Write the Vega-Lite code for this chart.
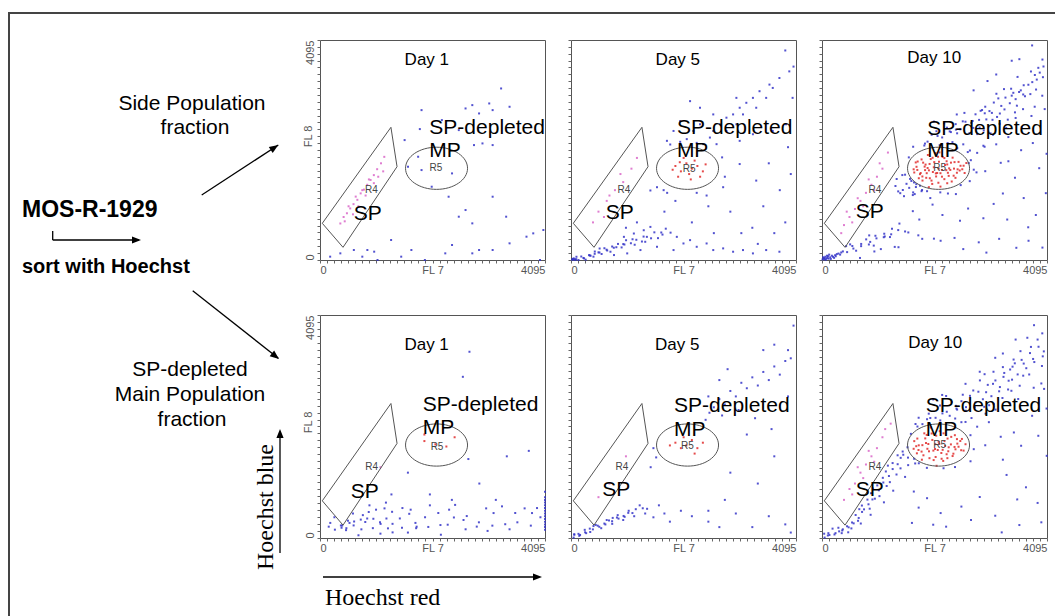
{
"$schema":"https://vega.github.io/schema/vega-lite/v6.json",
"autosize":{"type":"pad"},
"padding":0,
"background":"white",
"columns":4,
"spacing":{"row":55,"column":26},
"bounds":"flush",
"config":{
"view":{"stroke":"#555","strokeWidth":1},
"axis":{"domain":false,"grid":false,"ticks":true,"tickSize":3,"tickColor":"#666","tickWidth":1,"labelFont":"Liberation Sans Narrow, Arial Narrow, Liberation Sans","labelFontSize":11,"labelColor":"#555","titleFont":"Liberation Sans Narrow, Arial Narrow, Liberation Sans","titleFontSize":11,"titleFontWeight":"normal","titleColor":"#555"}
},
"datasets":{
"gate_r4":[{"vertex":1,"fl7":42,"fl8":683},{"vertex":2,"fl7":1291,"fl8":2470},{"vertex":3,"fl7":1402,"fl8":1737},{"vertex":4,"fl7":419,"fl8":236},{"vertex":5,"fl7":42,"fl8":683}],
"gate_r5":[{"fl7":2121,"fl8":1707}],
"cells_top_day1":[
{"fl7":370,"fl8":680,"gate":"R4"},{"fl7":430,"fl8":800,"gate":"R4"},{"fl7":490,"fl8":870,"gate":"R4"},{"fl7":550,"fl8":960,"gate":"R4"},{"fl7":610,"fl8":1040,"gate":"R4"},{"fl7":680,"fl8":1120,"gate":"R4"},{"fl7":740,"fl8":1240,"gate":"R4"},{"fl7":800,"fl8":1310,"gate":"R4"},{"fl7":860,"fl8":1400,"gate":"R4"},{"fl7":920,"fl8":1490,"gate":"R4"},{"fl7":980,"fl8":1580,"gate":"R4"},{"fl7":1040,"fl8":1690,"gate":"R4"},{"fl7":1110,"fl8":1800,"gate":"R4"},{"fl7":1170,"fl8":1920,"gate":"R4"},{"fl7":520,"fl8":1000,"gate":"R4"},{"fl7":650,"fl8":1180,"gate":"R4"},{"fl7":770,"fl8":1300,"gate":"R4"},{"fl7":890,"fl8":1500,"gate":"R4"},{"fl7":700,"fl8":1000,"gate":"R4"},{"fl7":980,"fl8":1430,"gate":"R4"},{"fl7":600,"fl8":850,"gate":"R4"},{"fl7":830,"fl8":1200,"gate":"R4"},{"fl7":1060,"fl8":1550,"gate":"R4"},{"fl7":450,"fl8":720,"gate":"R4"},{"fl7":1150,"fl8":1650,"gate":"R4"},
{"fl7":3296,"fl8":3193,"gate":"none"},{"fl7":2772,"fl8":2883,"gate":"none"},{"fl7":3080,"fl8":2914,"gate":"none"},{"fl7":2649,"fl8":2821,"gate":"none"},{"fl7":1848,"fl8":2790,"gate":"none"},{"fl7":2895,"fl8":2728,"gate":"none"},{"fl7":3142,"fl8":2790,"gate":"none"},{"fl7":3450,"fl8":2852,"gate":"none"},{"fl7":2218,"fl8":2604,"gate":"none"},{"fl7":2526,"fl8":2418,"gate":"none"},{"fl7":2803,"fl8":2139,"gate":"none"},{"fl7":2957,"fl8":2170,"gate":"none"},{"fl7":3142,"fl8":2139,"gate":"none"},{"fl7":1817,"fl8":2437,"gate":"none"},{"fl7":1540,"fl8":2232,"gate":"none"},{"fl7":1786,"fl8":1922,"gate":"none"},{"fl7":1848,"fl8":1674,"gate":"none"},{"fl7":2033,"fl8":1364,"gate":"none"},{"fl7":1602,"fl8":1736,"gate":"none"},{"fl7":2403,"fl8":1612,"gate":"none"},{"fl7":2772,"fl8":682,"gate":"none"},{"fl7":2341,"fl8":1178,"gate":"none"},{"fl7":2526,"fl8":806,"gate":"none"},{"fl7":2649,"fl8":930,"gate":"none"},{"fl7":3142,"fl8":1178,"gate":"none"},{"fl7":3388,"fl8":806,"gate":"none"},{"fl7":3758,"fl8":434,"gate":"none"},{"fl7":3881,"fl8":496,"gate":"none"},{"fl7":3450,"fl8":310,"gate":"none"},{"fl7":3142,"fl8":186,"gate":"none"},{"fl7":2772,"fl8":124,"gate":"none"},{"fl7":2403,"fl8":279,"gate":"none"},{"fl7":2280,"fl8":124,"gate":"none"},{"fl7":1663,"fl8":186,"gate":"none"},{"fl7":1294,"fl8":372,"gate":"none"},{"fl7":986,"fl8":155,"gate":"none"},{"fl7":770,"fl8":62,"gate":"none"},{"fl7":616,"fl8":186,"gate":"none"},{"fl7":370,"fl8":124,"gate":"none"},{"fl7":185,"fl8":62,"gate":"none"},{"fl7":862,"fl8":186,"gate":"none"},{"fl7":1047,"fl8":0,"gate":"none"},{"fl7":1478,"fl8":62,"gate":"none"},{"fl7":1909,"fl8":0,"gate":"none"},{"fl7":2895,"fl8":186,"gate":"none"},{"fl7":4004,"fl8":0,"gate":"none"},{"fl7":4065,"fl8":558,"gate":"none"}
],
"cells_top_day5":[
{"fl7":78,"fl8":0,"gate":"none"},{"fl7":99,"fl8":60,"gate":"none"},{"fl7":187,"fl8":65,"gate":"none"},{"fl7":226,"fl8":38,"gate":"none"},{"fl7":328,"fl8":91,"gate":"none"},{"fl7":357,"fl8":80,"gate":"none"},{"fl7":433,"fl8":158,"gate":"none"},{"fl7":500,"fl8":142,"gate":"none"},{"fl7":521,"fl8":214,"gate":"none"},{"fl7":608,"fl8":219,"gate":"none"},{"fl7":647,"fl8":192,"gate":"none"},{"fl7":749,"fl8":251,"gate":"none"},{"fl7":779,"fl8":228,"gate":"none"},{"fl7":855,"fl8":299,"gate":"none"},{"fl7":951,"fl8":296,"gate":"none"},{"fl7":1002,"fl8":368,"gate":"none"},{"fl7":1120,"fl8":386,"gate":"none"},{"fl7":1189,"fl8":376,"gate":"none"},{"fl7":1321,"fl8":436,"gate":"none"},{"fl7":1381,"fl8":431,"gate":"none"},{"fl7":1517,"fl8":515,"gate":"none"},{"fl7":1643,"fl8":512,"gate":"none"},{"fl7":1725,"fl8":583,"gate":"none"},{"fl7":96,"fl8":16,"gate":"none"},{"fl7":136,"fl8":0,"gate":"none"},{"fl7":238,"fl8":30,"gate":"none"},{"fl7":267,"fl8":6,"gate":"none"},{"fl7":343,"fl8":84,"gate":"none"},{"fl7":409,"fl8":62,"gate":"none"},{"fl7":431,"fl8":115,"gate":"none"},{"fl7":518,"fl8":139,"gate":"none"},{"fl7":557,"fl8":112,"gate":"none"},{"fl7":659,"fl8":177,"gate":"none"},{"fl7":718,"fl8":154,"gate":"none"},{"fl7":825,"fl8":238,"gate":"none"},{"fl7":921,"fl8":234,"gate":"none"},{"fl7":972,"fl8":288,"gate":"none"},{"fl7":1090,"fl8":312,"gate":"none"},{"fl7":1159,"fl8":284,"gate":"none"},{"fl7":1291,"fl8":344,"gate":"none"},{"fl7":1351,"fl8":339,"gate":"none"},{"fl7":1457,"fl8":404,"gate":"none"},{"fl7":1583,"fl8":407,"gate":"none"},{"fl7":1665,"fl8":473,"gate":"none"},{"fl7":1812,"fl8":509,"gate":"none"},{"fl7":1926,"fl8":431,"gate":"none"},{"fl7":2047,"fl8":308,"gate":"none"},{"fl7":2167,"fl8":370,"gate":"none"},{"fl7":2288,"fl8":246,"gate":"none"},{"fl7":2468,"fl8":308,"gate":"none"},{"fl7":2589,"fl8":185,"gate":"none"},{"fl7":2769,"fl8":216,"gate":"none"},{"fl7":2950,"fl8":154,"gate":"none"},{"fl7":3130,"fl8":185,"gate":"none"},{"fl7":3311,"fl8":123,"gate":"none"},{"fl7":3552,"fl8":185,"gate":"none"},{"fl7":3793,"fl8":154,"gate":"none"},{"fl7":963,"fl8":431,"gate":"none"},{"fl7":1144,"fl8":493,"gate":"none"},{"fl7":1324,"fl8":554,"gate":"none"},{"fl7":1445,"fl8":616,"gate":"none"},{"fl7":1264,"fl8":185,"gate":"none"},{"fl7":1023,"fl8":123,"gate":"none"},{"fl7":783,"fl8":92,"gate":"none"},{"fl7":1565,"fl8":246,"gate":"none"},{"fl7":1866,"fl8":185,"gate":"none"},{"fl7":20,"fl8":5,"gate":"none"},{"fl7":40,"fl8":10,"gate":"none"},{"fl7":30,"fl8":20,"gate":"none"},{"fl7":70,"fl8":15,"gate":"none"},{"fl7":50,"fl8":30,"gate":"none"},
{"fl7":1445,"fl8":1294,"gate":"none"},{"fl7":1565,"fl8":1355,"gate":"none"},{"fl7":1686,"fl8":1300,"gate":"none"},{"fl7":1806,"fl8":2150,"gate":"none"},{"fl7":1750,"fl8":1250,"gate":"none"},{"fl7":1987,"fl8":2200,"gate":"none"},{"fl7":2107,"fl8":2250,"gate":"none"},{"fl7":2288,"fl8":2180,"gate":"none"},{"fl7":2408,"fl8":2156,"gate":"none"},{"fl7":2528,"fl8":2279,"gate":"none"},{"fl7":2589,"fl8":2402,"gate":"none"},{"fl7":2709,"fl8":2526,"gate":"none"},{"fl7":2829,"fl8":2649,"gate":"none"},{"fl7":2950,"fl8":2710,"gate":"none"},{"fl7":3070,"fl8":2834,"gate":"none"},{"fl7":3191,"fl8":2926,"gate":"none"},{"fl7":3311,"fl8":3018,"gate":"none"},{"fl7":3431,"fl8":3142,"gate":"none"},{"fl7":3612,"fl8":3265,"gate":"none"},{"fl7":3793,"fl8":3388,"gate":"none"},{"fl7":3973,"fl8":3511,"gate":"none"},{"fl7":2750,"fl8":1910,"gate":"none"},{"fl7":2649,"fl8":2156,"gate":"none"},{"fl7":2829,"fl8":2402,"gate":"none"},{"fl7":3010,"fl8":2526,"gate":"none"},{"fl7":3130,"fl8":2710,"gate":"none"},{"fl7":3371,"fl8":2834,"gate":"none"},{"fl7":3552,"fl8":3018,"gate":"none"},{"fl7":3672,"fl8":3203,"gate":"none"},{"fl7":2227,"fl8":2402,"gate":"none"},{"fl7":2348,"fl8":2526,"gate":"none"},{"fl7":2589,"fl8":2710,"gate":"none"},{"fl7":2167,"fl8":2957,"gate":"none"},{"fl7":3070,"fl8":2218,"gate":"none"},{"fl7":3311,"fl8":2341,"gate":"none"},{"fl7":3672,"fl8":2402,"gate":"none"},{"fl7":3913,"fl8":2526,"gate":"none"},{"fl7":4033,"fl8":3018,"gate":"none"},{"fl7":1866,"fl8":2402,"gate":"none"},{"fl7":1746,"fl8":2218,"gate":"none"},{"fl7":1987,"fl8":2587,"gate":"none"},{"fl7":2348,"fl8":2834,"gate":"none"},{"fl7":3010,"fl8":3018,"gate":"none"},{"fl7":2288,"fl8":1250,"gate":"none"},{"fl7":2769,"fl8":1355,"gate":"none"},{"fl7":3070,"fl8":1786,"gate":"none"},{"fl7":3371,"fl8":1478,"gate":"none"},{"fl7":2800,"fl8":1550,"gate":"none"},{"fl7":2468,"fl8":1200,"gate":"none"},
{"fl7":3500,"fl8":1000,"gate":"none"},{"fl7":3800,"fl8":1300,"gate":"none"},{"fl7":3900,"fl8":700,"gate":"none"},{"fl7":3300,"fl8":600,"gate":"none"},{"fl7":2900,"fl8":900,"gate":"none"},{"fl7":2500,"fl8":1000,"gate":"none"},{"fl7":3100,"fl8":500,"gate":"none"},{"fl7":3700,"fl8":500,"gate":"none"},{"fl7":4000,"fl8":1600,"gate":"none"},{"fl7":3600,"fl8":1800,"gate":"none"},{"fl7":3950,"fl8":2100,"gate":"none"},{"fl7":4050,"fl8":3600,"gate":"none"},{"fl7":3900,"fl8":3900,"gate":"none"},{"fl7":1700,"fl8":900,"gate":"none"},{"fl7":1900,"fl8":1100,"gate":"none"},{"fl7":2200,"fl8":700,"gate":"none"},{"fl7":2600,"fl8":500,"gate":"none"},{"fl7":3400,"fl8":300,"gate":"none"},{"fl7":1200,"fl8":700,"gate":"none"},{"fl7":1000,"fl8":600,"gate":"none"},
{"fl7":1900,"fl8":1750,"gate":"R5"},{"fl7":2000,"fl8":1650,"gate":"R5"},{"fl7":2100,"fl8":1800,"gate":"R5"},{"fl7":2200,"fl8":1700,"gate":"R5"},{"fl7":2300,"fl8":1750,"gate":"R5"},{"fl7":1950,"fl8":1550,"gate":"R5"},{"fl7":2150,"fl8":1600,"gate":"R5"},{"fl7":2250,"fl8":1850,"gate":"R5"},{"fl7":2400,"fl8":1650,"gate":"R5"},{"fl7":1850,"fl8":1680,"gate":"R5"},{"fl7":2050,"fl8":1900,"gate":"R5"},{"fl7":2350,"fl8":1550,"gate":"R5"},{"fl7":2180,"fl8":1500,"gate":"R5"},{"fl7":1980,"fl8":1820,"gate":"R5"},{"fl7":2450,"fl8":1780,"gate":"R5"},
{"fl7":500,"fl8":900,"gate":"R4"},{"fl7":650,"fl8":1100,"gate":"R4"},{"fl7":800,"fl8":1300,"gate":"R4"},{"fl7":950,"fl8":1450,"gate":"R4"},{"fl7":700,"fl8":1200,"gate":"R4"},{"fl7":1100,"fl8":1700,"gate":"R4"},{"fl7":400,"fl8":700,"gate":"R4"},{"fl7":900,"fl8":1600,"gate":"R4"},{"fl7":1200,"fl8":1900,"gate":"R4"},{"fl7":600,"fl8":800,"gate":"R4"}
],
"cells_top_day10":[
{"fl7":10,"fl8":10,"gate":"none"},{"fl7":30,"fl8":20,"gate":"none"},{"fl7":50,"fl8":15,"gate":"none"},{"fl7":80,"fl8":30,"gate":"none"},{"fl7":100,"fl8":40,"gate":"none"},{"fl7":120,"fl8":25,"gate":"none"},{"fl7":150,"fl8":50,"gate":"none"},{"fl7":60,"fl8":60,"gate":"none"},{"fl7":200,"fl8":60,"gate":"none"},{"fl7":180,"fl8":80,"gate":"none"},{"fl7":240,"fl8":90,"gate":"none"},{"fl7":90,"fl8":80,"gate":"none"},{"fl7":130,"fl8":100,"gate":"none"},{"fl7":270,"fl8":110,"gate":"none"},{"fl7":300,"fl8":120,"gate":"none"},{"fl7":40,"fl8":40,"gate":"none"},{"fl7":220,"fl8":40,"gate":"none"},{"fl7":160,"fl8":20,"gate":"none"},{"fl7":20,"fl8":50,"gate":"none"},{"fl7":70,"fl8":5,"gate":"none"},{"fl7":110,"fl8":70,"gate":"none"},{"fl7":250,"fl8":70,"gate":"none"},{"fl7":330,"fl8":100,"gate":"none"},{"fl7":350,"fl8":140,"gate":"none"},{"fl7":380,"fl8":160,"gate":"none"},
{"fl7":457,"fl8":147,"gate":"none"},{"fl7":439,"fl8":258,"gate":"none"},{"fl7":552,"fl8":261,"gate":"none"},{"fl7":571,"fl8":213,"gate":"none"},{"fl7":713,"fl8":299,"gate":"none"},{"fl7":712,"fl8":258,"gate":"none"},{"fl7":804,"fl8":384,"gate":"none"},{"fl7":877,"fl8":337,"gate":"none"},{"fl7":859,"fl8":458,"gate":"none"},{"fl7":972,"fl8":451,"gate":"none"},{"fl7":991,"fl8":403,"gate":"none"},{"fl7":1133,"fl8":489,"gate":"none"},{"fl7":1142,"fl8":438,"gate":"none"},{"fl7":1274,"fl8":584,"gate":"none"},{"fl7":1387,"fl8":557,"gate":"none"},{"fl7":1409,"fl8":678,"gate":"none"},{"fl7":512,"fl8":291,"gate":"none"},{"fl7":621,"fl8":173,"gate":"none"},{"fl7":853,"fl8":289,"gate":"none"},{"fl7":942,"fl8":268,"gate":"none"},{"fl7":1124,"fl8":424,"gate":"none"},{"fl7":1237,"fl8":427,"gate":"none"},{"fl7":1259,"fl8":478,"gate":"none"},{"fl7":1512,"fl8":531,"gate":"none"},{"fl7":1571,"fl8":513,"gate":"none"},{"fl7":1753,"fl8":459,"gate":"none"},{"fl7":1392,"fl8":238,"gate":"none"},{"fl7":1824,"fl8":394,"gate":"none"},{"fl7":2037,"fl8":397,"gate":"none"},{"fl7":2159,"fl8":358,"gate":"none"},{"fl7":2412,"fl8":411,"gate":"none"},{"fl7":2571,"fl8":203,"gate":"none"},{"fl7":2853,"fl8":329,"gate":"none"},{"fl7":2992,"fl8":138,"gate":"none"},{"fl7":3224,"fl8":394,"gate":"none"},{"fl7":3537,"fl8":227,"gate":"none"},{"fl7":3759,"fl8":358,"gate":"none"},{"fl7":4012,"fl8":231,"gate":"none"},{"fl7":1071,"fl8":203,"gate":"none"},{"fl7":953,"fl8":159,"gate":"none"},{"fl7":692,"fl8":38,"gate":"none"},{"fl7":1324,"fl8":244,"gate":"none"},
{"fl7":1337,"fl8":1377,"gate":"none"},{"fl7":1359,"fl8":1508,"gate":"none"},{"fl7":1462,"fl8":1581,"gate":"none"},{"fl7":1471,"fl8":1303,"gate":"none"},{"fl7":1603,"fl8":1509,"gate":"none"},{"fl7":1512,"fl8":1588,"gate":"none"},{"fl7":1674,"fl8":1444,"gate":"none"},{"fl7":1687,"fl8":1227,"gate":"none"},{"fl7":1709,"fl8":1358,"gate":"none"},{"fl7":1812,"fl8":1281,"gate":"none"},{"fl7":1821,"fl8":1303,"gate":"none"},{"fl7":1653,"fl8":1209,"gate":"none"},{"fl7":1492,"fl8":1188,"gate":"none"},{"fl7":1424,"fl8":1244,"gate":"none"},{"fl7":1387,"fl8":1277,"gate":"none"},{"fl7":1659,"fl8":1258,"gate":"none"},{"fl7":1912,"fl8":1281,"gate":"none"},{"fl7":1971,"fl8":1153,"gate":"none"},{"fl7":2153,"fl8":1259,"gate":"none"},{"fl7":2292,"fl8":1238,"gate":"none"},{"fl7":2524,"fl8":1394,"gate":"none"},{"fl7":1580,"fl8":1910,"gate":"none"},{"fl7":1659,"fl8":2108,"gate":"none"},{"fl7":1862,"fl8":2131,"gate":"none"},{"fl7":1921,"fl8":2203,"gate":"none"},{"fl7":2103,"fl8":2309,"gate":"none"},{"fl7":2142,"fl8":2138,"gate":"none"},{"fl7":2324,"fl8":2394,"gate":"none"},{"fl7":2437,"fl8":2427,"gate":"none"},{"fl7":2459,"fl8":2358,"gate":"none"},{"fl7":2562,"fl8":2581,"gate":"none"},{"fl7":2571,"fl8":2153,"gate":"none"},{"fl7":2753,"fl8":2459,"gate":"none"},{"fl7":2742,"fl8":2588,"gate":"none"},{"fl7":2824,"fl8":2344,"gate":"none"},{"fl7":2887,"fl8":2777,"gate":"none"},{"fl7":2859,"fl8":2608,"gate":"none"},{"fl7":2962,"fl8":2731,"gate":"none"},{"fl7":2971,"fl8":2853,"gate":"none"},{"fl7":3103,"fl8":2609,"gate":"none"},{"fl7":3092,"fl8":2738,"gate":"none"},{"fl7":3174,"fl8":3094,"gate":"none"},{"fl7":3237,"fl8":2727,"gate":"none"},{"fl7":3209,"fl8":3008,"gate":"none"},{"fl7":3312,"fl8":3181,"gate":"none"},{"fl7":3321,"fl8":2803,"gate":"none"},{"fl7":3453,"fl8":3059,"gate":"none"},{"fl7":3442,"fl8":3188,"gate":"none"},{"fl7":3524,"fl8":2994,"gate":"none"},{"fl7":3587,"fl8":3127,"gate":"none"},{"fl7":3559,"fl8":3408,"gate":"none"},{"fl7":3662,"fl8":3081,"gate":"none"},{"fl7":3671,"fl8":3253,"gate":"none"},{"fl7":3803,"fl8":3509,"gate":"none"},{"fl7":3792,"fl8":3088,"gate":"none"},{"fl7":3874,"fl8":3444,"gate":"none"},{"fl7":3937,"fl8":3577,"gate":"none"},{"fl7":3909,"fl8":3358,"gate":"none"},{"fl7":4012,"fl8":3731,"gate":"none"},{"fl7":4021,"fl8":3403,"gate":"none"},{"fl7":2653,"fl8":2009,"gate":"none"},{"fl7":2692,"fl8":2038,"gate":"none"},{"fl7":2824,"fl8":1994,"gate":"none"},{"fl7":2937,"fl8":2127,"gate":"none"},{"fl7":2959,"fl8":2108,"gate":"none"},{"fl7":3112,"fl8":2331,"gate":"none"},{"fl7":3171,"fl8":2153,"gate":"none"},{"fl7":3353,"fl8":2459,"gate":"none"},{"fl7":3392,"fl8":2288,"gate":"none"},{"fl7":3524,"fl8":2644,"gate":"none"},{"fl7":3637,"fl8":2477,"gate":"none"},{"fl7":3659,"fl8":2808,"gate":"none"},{"fl7":3812,"fl8":2681,"gate":"none"},{"fl7":3871,"fl8":2853,"gate":"none"},{"fl7":4053,"fl8":2809,"gate":"none"},{"fl7":2462,"fl8":2081,"gate":"none"},{"fl7":2374,"fl8":2194,"gate":"none"},{"fl7":2287,"fl8":2177,"gate":"none"},{"fl7":2709,"fl8":1858,"gate":"none"},{"fl7":2762,"fl8":1681,"gate":"none"},{"fl7":2671,"fl8":1803,"gate":"none"},{"fl7":2453,"fl8":2709,"gate":"none"},{"fl7":2592,"fl8":2738,"gate":"none"},{"fl7":2224,"fl8":2544,"gate":"none"},{"fl7":2037,"fl8":2577,"gate":"none"},{"fl7":2759,"fl8":3158,"gate":"none"},{"fl7":3012,"fl8":3331,"gate":"none"},{"fl7":3171,"fl8":3453,"gate":"none"},{"fl7":3453,"fl8":3709,"gate":"none"},{"fl7":3592,"fl8":3738,"gate":"none"},{"fl7":3824,"fl8":3994,"gate":"none"},{"fl7":2437,"fl8":1227,"gate":"none"},{"fl7":2689,"fl8":1468,"gate":"none"},{"fl7":2812,"fl8":1631,"gate":"none"},{"fl7":2971,"fl8":1653,"gate":"none"},{"fl7":3253,"fl8":1809,"gate":"none"},{"fl7":3392,"fl8":1838,"gate":"none"},{"fl7":3624,"fl8":2044,"gate":"none"},{"fl7":3837,"fl8":2177,"gate":"none"},{"fl7":3959,"fl8":2358,"gate":"none"},{"fl7":3512,"fl8":1531,"gate":"none"},{"fl7":3671,"fl8":1153,"gate":"none"},{"fl7":3953,"fl8":1709,"gate":"none"},{"fl7":3292,"fl8":1238,"gate":"none"},{"fl7":3124,"fl8":1044,"gate":"none"},{"fl7":2937,"fl8":777,"gate":"none"},{"fl7":2659,"fl8":958,"gate":"none"},{"fl7":2512,"fl8":731,"gate":"none"},{"fl7":3371,"fl8":753,"gate":"none"},{"fl7":3753,"fl8":609,"gate":"none"},{"fl7":3892,"fl8":838,"gate":"none"},{"fl7":4074,"fl8":1244,"gate":"none"},{"fl7":4087,"fl8":1977,"gate":"none"},{"fl7":4009,"fl8":3058,"gate":"none"},{"fl7":2012,"fl8":1031,"gate":"none"},{"fl7":1771,"fl8":753,"gate":"none"},{"fl7":1653,"fl8":909,"gate":"none"},{"fl7":2192,"fl8":838,"gate":"none"},
{"fl7":1538,"fl8":1418,"gate":"none"},{"fl7":1587,"fl8":1343,"gate":"none"},{"fl7":1627,"fl8":1471,"gate":"none"},{"fl7":1716,"fl8":1412,"gate":"none"},{"fl7":1783,"fl8":1383,"gate":"none"},{"fl7":1874,"fl8":2167,"gate":"none"},{"fl7":1996,"fl8":2331,"gate":"none"},{"fl7":2083,"fl8":2397,"gate":"none"},{"fl7":2187,"fl8":2281,"gate":"none"},{"fl7":2274,"fl8":2463,"gate":"none"},{"fl7":2346,"fl8":2381,"gate":"none"},{"fl7":2433,"fl8":2529,"gate":"none"},{"fl7":2517,"fl8":2433,"gate":"none"},{"fl7":2611,"fl8":2574,"gate":"none"},{"fl7":2683,"fl8":2361,"gate":"none"},{"fl7":2718,"fl8":2553,"gate":"none"},{"fl7":2794,"fl8":2712,"gate":"none"},{"fl7":2868,"fl8":2466,"gate":"none"},{"fl7":2913,"fl8":2791,"gate":"none"},{"fl7":2991,"fl8":2617,"gate":"none"},{"fl7":3048,"fl8":2772,"gate":"none"},{"fl7":3127,"fl8":2931,"gate":"none"},{"fl7":3186,"fl8":2663,"gate":"none"},{"fl7":3263,"fl8":2868,"gate":"none"},{"fl7":3339,"fl8":3023,"gate":"none"},{"fl7":3418,"fl8":2918,"gate":"none"},{"fl7":3482,"fl8":3112,"gate":"none"},{"fl7":3547,"fl8":2873,"gate":"none"},{"fl7":3618,"fl8":3158,"gate":"none"},{"fl7":3694,"fl8":3048,"gate":"none"},{"fl7":3756,"fl8":3262,"gate":"none"},{"fl7":3827,"fl8":3311,"gate":"none"},{"fl7":3896,"fl8":3173,"gate":"none"},{"fl7":3963,"fl8":3488,"gate":"none"},{"fl7":4031,"fl8":3602,"gate":"none"},{"fl7":2944,"fl8":2411,"gate":"none"},{"fl7":3068,"fl8":2357,"gate":"none"},{"fl7":3233,"fl8":2536,"gate":"none"},{"fl7":3381,"fl8":2612,"gate":"none"},{"fl7":3512,"fl8":2748,"gate":"none"},
{"fl7":1668,"fl8":1688,"gate":"R5"},{"fl7":1679,"fl8":1629,"gate":"R5"},{"fl7":1706,"fl8":1816,"gate":"R5"},{"fl7":1735,"fl8":1676,"gate":"R5"},{"fl7":1827,"fl8":1555,"gate":"R5"},{"fl7":1796,"fl8":1619,"gate":"R5"},{"fl7":1812,"fl8":1872,"gate":"R5"},{"fl7":1868,"fl8":1738,"gate":"R5"},{"fl7":1829,"fl8":1479,"gate":"R5"},{"fl7":1906,"fl8":1616,"gate":"R5"},{"fl7":1885,"fl8":1776,"gate":"R5"},{"fl7":1927,"fl8":1955,"gate":"R5"},{"fl7":1946,"fl8":1669,"gate":"R5"},{"fl7":1962,"fl8":1522,"gate":"R5"},{"fl7":2018,"fl8":1638,"gate":"R5"},{"fl7":1979,"fl8":1879,"gate":"R5"},{"fl7":2006,"fl8":1416,"gate":"R5"},{"fl7":2035,"fl8":1726,"gate":"R5"},{"fl7":2077,"fl8":1555,"gate":"R5"},{"fl7":2096,"fl8":1619,"gate":"R5"},{"fl7":2112,"fl8":1922,"gate":"R5"},{"fl7":2118,"fl8":1438,"gate":"R5"},{"fl7":2129,"fl8":1829,"gate":"R5"},{"fl7":2156,"fl8":1616,"gate":"R5"},{"fl7":2185,"fl8":1676,"gate":"R5"},{"fl7":2227,"fl8":1505,"gate":"R5"},{"fl7":2196,"fl8":1919,"gate":"R5"},{"fl7":2262,"fl8":1672,"gate":"R5"},{"fl7":2268,"fl8":1838,"gate":"R5"},{"fl7":2279,"fl8":1779,"gate":"R5"},{"fl7":2306,"fl8":1566,"gate":"R5"},{"fl7":2335,"fl8":1676,"gate":"R5"},{"fl7":2377,"fl8":1905,"gate":"R5"},{"fl7":2396,"fl8":1569,"gate":"R5"},{"fl7":2412,"fl8":1822,"gate":"R5"},{"fl7":2468,"fl8":1688,"gate":"R5"},{"fl7":2429,"fl8":1529,"gate":"R5"},{"fl7":2506,"fl8":1666,"gate":"R5"},{"fl7":2485,"fl8":1826,"gate":"R5"},{"fl7":2577,"fl8":1755,"gate":"R5"},{"fl7":2596,"fl8":1619,"gate":"R5"},{"fl7":1762,"fl8":1522,"gate":"R5"},{"fl7":2068,"fl8":1988,"gate":"R5"},{"fl7":2279,"fl8":1429,"gate":"R5"},{"fl7":2156,"fl8":1366,"gate":"R5"},{"fl7":1945,"fl8":1356,"gate":"R5"},{"fl7":2627,"fl8":1805,"gate":"R5"},
{"fl7":1720,"fl8":1735,"gate":"R5"},{"fl7":1783,"fl8":1598,"gate":"R5"},{"fl7":1841,"fl8":1812,"gate":"R5"},{"fl7":1897,"fl8":1530,"gate":"R5"},{"fl7":1958,"fl8":1788,"gate":"R5"},{"fl7":2013,"fl8":1903,"gate":"R5"},{"fl7":2072,"fl8":1612,"gate":"R5"},{"fl7":2124,"fl8":1702,"gate":"R5"},{"fl7":2183,"fl8":1551,"gate":"R5"},{"fl7":2239,"fl8":1768,"gate":"R5"},{"fl7":2291,"fl8":1623,"gate":"R5"},{"fl7":2347,"fl8":1812,"gate":"R5"},{"fl7":2402,"fl8":1701,"gate":"R5"},{"fl7":2455,"fl8":1624,"gate":"R5"},{"fl7":2521,"fl8":1754,"gate":"R5"},{"fl7":1876,"fl8":1673,"gate":"R5"},{"fl7":1993,"fl8":1478,"gate":"R5"},{"fl7":2227,"fl8":1897,"gate":"R5"},{"fl7":2361,"fl8":1461,"gate":"R5"},{"fl7":2138,"fl8":2003,"gate":"R5"},{"fl7":1741,"fl8":1833,"gate":"R5"},{"fl7":2553,"fl8":1689,"gate":"R5"},{"fl7":2043,"fl8":1822,"gate":"R5"},{"fl7":2314,"fl8":1706,"gate":"R5"},{"fl7":1922,"fl8":1712,"gate":"R5"},
{"fl7":400,"fl8":650,"gate":"R4"},{"fl7":500,"fl8":800,"gate":"R4"},{"fl7":600,"fl8":950,"gate":"R4"},{"fl7":700,"fl8":1100,"gate":"R4"},{"fl7":800,"fl8":1250,"gate":"R4"},{"fl7":900,"fl8":1400,"gate":"R4"},{"fl7":1000,"fl8":1550,"gate":"R4"},{"fl7":1100,"fl8":1700,"gate":"R4"},{"fl7":550,"fl8":700,"gate":"R4"},{"fl7":750,"fl8":1000,"gate":"R4"},{"fl7":950,"fl8":1300,"gate":"R4"},{"fl7":650,"fl8":1150,"gate":"R4"},{"fl7":850,"fl8":1500,"gate":"R4"},{"fl7":450,"fl8":900,"gate":"R4"},{"fl7":1050,"fl8":1800,"gate":"R4"},{"fl7":1200,"fl8":2000,"gate":"R4"},{"fl7":350,"fl8":500,"gate":"R4"}
],
"cells_bottom_day1":[
{"fl7":187,"fl8":277,"gate":"none"},{"fl7":159,"fl8":208,"gate":"none"},{"fl7":262,"fl8":381,"gate":"none"},{"fl7":271,"fl8":153,"gate":"none"},{"fl7":403,"fl8":229,"gate":"none"},{"fl7":392,"fl8":188,"gate":"none"},{"fl7":474,"fl8":144,"gate":"none"},{"fl7":537,"fl8":277,"gate":"none"},{"fl7":509,"fl8":318,"gate":"none"},{"fl7":612,"fl8":231,"gate":"none"},{"fl7":621,"fl8":303,"gate":"none"},{"fl7":753,"fl8":159,"gate":"none"},{"fl7":742,"fl8":338,"gate":"none"},{"fl7":824,"fl8":294,"gate":"none"},{"fl7":887,"fl8":477,"gate":"none"},{"fl7":859,"fl8":358,"gate":"none"},{"fl7":962,"fl8":181,"gate":"none"},{"fl7":971,"fl8":353,"gate":"none"},{"fl7":1103,"fl8":259,"gate":"none"},{"fl7":1092,"fl8":288,"gate":"none"},{"fl7":1174,"fl8":544,"gate":"none"},{"fl7":1237,"fl8":177,"gate":"none"},{"fl7":1209,"fl8":358,"gate":"none"},{"fl7":1312,"fl8":481,"gate":"none"},{"fl7":1321,"fl8":103,"gate":"none"},{"fl7":1453,"fl8":359,"gate":"none"},{"fl7":1492,"fl8":188,"gate":"none"},{"fl7":1624,"fl8":444,"gate":"none"},{"fl7":1737,"fl8":277,"gate":"none"},{"fl7":1759,"fl8":208,"gate":"none"},{"fl7":1912,"fl8":381,"gate":"none"},{"fl7":1971,"fl8":203,"gate":"none"},{"fl7":2153,"fl8":459,"gate":"none"},{"fl7":2192,"fl8":238,"gate":"none"},{"fl7":2324,"fl8":244,"gate":"none"},{"fl7":2437,"fl8":377,"gate":"none"},{"fl7":2459,"fl8":608,"gate":"none"},{"fl7":2612,"fl8":331,"gate":"none"},{"fl7":2671,"fl8":403,"gate":"none"},{"fl7":2853,"fl8":209,"gate":"none"},{"fl7":2892,"fl8":288,"gate":"none"},{"fl7":3024,"fl8":544,"gate":"none"},{"fl7":3137,"fl8":227,"gate":"none"},{"fl7":3159,"fl8":458,"gate":"none"},{"fl7":3312,"fl8":581,"gate":"none"},{"fl7":3371,"fl8":253,"gate":"none"},{"fl7":3553,"fl8":459,"gate":"none"},{"fl7":3592,"fl8":288,"gate":"none"},{"fl7":3724,"fl8":544,"gate":"none"},{"fl7":3837,"fl8":227,"gate":"none"},{"fl7":3859,"fl8":458,"gate":"none"},{"fl7":4012,"fl8":381,"gate":"none"},{"fl7":600,"fl8":450,"gate":"none"},{"fl7":900,"fl8":600,"gate":"none"},{"fl7":1200,"fl8":650,"gate":"none"},{"fl7":1500,"fl8":550,"gate":"none"},{"fl7":2000,"fl8":600,"gate":"none"},{"fl7":2400,"fl8":700,"gate":"none"},{"fl7":700,"fl8":50,"gate":"none"},{"fl7":1100,"fl8":80,"gate":"none"},{"fl7":1600,"fl8":100,"gate":"none"},{"fl7":2200,"fl8":60,"gate":"none"},{"fl7":380,"fl8":230,"gate":"none"},{"fl7":480,"fl8":180,"gate":"none"},{"fl7":780,"fl8":420,"gate":"none"},{"fl7":1020,"fl8":520,"gate":"none"},{"fl7":1320,"fl8":260,"gate":"none"},{"fl7":1650,"fl8":520,"gate":"none"},{"fl7":1750,"fl8":180,"gate":"none"},{"fl7":2350,"fl8":520,"gate":"none"},{"fl7":2650,"fl8":160,"gate":"none"},{"fl7":3050,"fl8":130,"gate":"none"},{"fl7":3450,"fl8":160,"gate":"none"},{"fl7":3950,"fl8":550,"gate":"none"},
{"fl7":4095,"fl8":150,"gate":"none"},{"fl7":4095,"fl8":200,"gate":"none"},{"fl7":4095,"fl8":250,"gate":"none"},{"fl7":4095,"fl8":300,"gate":"none"},{"fl7":4095,"fl8":350,"gate":"none"},{"fl7":4095,"fl8":400,"gate":"none"},{"fl7":4095,"fl8":450,"gate":"none"},{"fl7":4095,"fl8":500,"gate":"none"},{"fl7":4095,"fl8":550,"gate":"none"},{"fl7":4095,"fl8":600,"gate":"none"},{"fl7":4095,"fl8":650,"gate":"none"},{"fl7":4095,"fl8":700,"gate":"none"},{"fl7":4095,"fl8":750,"gate":"none"},{"fl7":4095,"fl8":850,"gate":"none"},
{"fl7":2720,"fl8":3420,"gate":"none"},{"fl7":2600,"fl8":2960,"gate":"none"},{"fl7":1600,"fl8":1200,"gate":"none"},{"fl7":2700,"fl8":1450,"gate":"none"},{"fl7":3400,"fl8":1500,"gate":"none"},{"fl7":3800,"fl8":1600,"gate":"none"},{"fl7":1300,"fl8":800,"gate":"none"},{"fl7":2000,"fl8":800,"gate":"none"},{"fl7":2900,"fl8":1000,"gate":"none"},{"fl7":3200,"fl8":700,"gate":"none"},
{"fl7":1900,"fl8":1780,"gate":"R5"},{"fl7":2100,"fl8":1720,"gate":"R5"},{"fl7":2300,"fl8":1680,"gate":"R5"},{"fl7":1900,"fl8":1900,"gate":"R5"},{"fl7":2450,"fl8":1850,"gate":"R5"},
{"fl7":1100,"fl8":1300,"gate":"R4"}
],
"cells_bottom_day5":[
{"fl7":48,"fl8":8,"gate":"none"},{"fl7":59,"fl8":69,"gate":"none"},{"fl7":136,"fl8":76,"gate":"none"},{"fl7":165,"fl8":56,"gate":"none"},{"fl7":257,"fl8":105,"gate":"none"},{"fl7":276,"fl8":89,"gate":"none"},{"fl7":342,"fl8":172,"gate":"none"},{"fl7":398,"fl8":158,"gate":"none"},{"fl7":409,"fl8":219,"gate":"none"},{"fl7":486,"fl8":226,"gate":"none"},{"fl7":515,"fl8":206,"gate":"none"},{"fl7":607,"fl8":265,"gate":"none"},{"fl7":626,"fl8":249,"gate":"none"},{"fl7":692,"fl8":322,"gate":"none"},{"fl7":748,"fl8":308,"gate":"none"},{"fl7":759,"fl8":369,"gate":"none"},{"fl7":836,"fl8":376,"gate":"none"},{"fl7":865,"fl8":356,"gate":"none"},{"fl7":957,"fl8":405,"gate":"none"},{"fl7":976,"fl8":389,"gate":"none"},{"fl7":1042,"fl8":462,"gate":"none"},{"fl7":1118,"fl8":458,"gate":"none"},{"fl7":1179,"fl8":529,"gate":"none"},{"fl7":1306,"fl8":546,"gate":"none"},{"fl7":1385,"fl8":536,"gate":"none"},{"fl7":60,"fl8":60,"gate":"none"},{"fl7":150,"fl8":40,"gate":"none"},{"fl7":250,"fl8":150,"gate":"none"},{"fl7":350,"fl8":110,"gate":"none"},{"fl7":450,"fl8":240,"gate":"none"},{"fl7":550,"fl8":180,"gate":"none"},{"fl7":650,"fl8":330,"gate":"none"},{"fl7":750,"fl8":260,"gate":"none"},{"fl7":850,"fl8":420,"gate":"none"},{"fl7":950,"fl8":330,"gate":"none"},{"fl7":1050,"fl8":500,"gate":"none"},{"fl7":1150,"fl8":400,"gate":"none"},{"fl7":1250,"fl8":600,"gate":"none"},{"fl7":1350,"fl8":450,"gate":"none"},{"fl7":1500,"fl8":380,"gate":"none"},{"fl7":1600,"fl8":600,"gate":"none"},{"fl7":1700,"fl8":450,"gate":"none"},{"fl7":1800,"fl8":300,"gate":"none"},{"fl7":2000,"fl8":500,"gate":"none"},{"fl7":2200,"fl8":400,"gate":"none"},{"fl7":2500,"fl8":300,"gate":"none"},{"fl7":2800,"fl8":700,"gate":"none"},{"fl7":3000,"fl8":450,"gate":"none"},{"fl7":3300,"fl8":200,"gate":"none"},{"fl7":3600,"fl8":400,"gate":"none"},{"fl7":3900,"fl8":250,"gate":"none"},{"fl7":4000,"fl8":100,"gate":"none"},
{"fl7":1450,"fl8":1300,"gate":"none"},{"fl7":1550,"fl8":1480,"gate":"none"},{"fl7":1500,"fl8":1650,"gate":"none"},{"fl7":2450,"fl8":2170,"gate":"none"},{"fl7":2520,"fl8":2300,"gate":"none"},{"fl7":2600,"fl8":2400,"gate":"none"},{"fl7":2700,"fl8":2550,"gate":"none"},{"fl7":2800,"fl8":2450,"gate":"none"},{"fl7":2900,"fl8":2700,"gate":"none"},{"fl7":3000,"fl8":2600,"gate":"none"},{"fl7":3100,"fl8":2850,"gate":"none"},{"fl7":3200,"fl8":2750,"gate":"none"},{"fl7":3300,"fl8":2950,"gate":"none"},{"fl7":3400,"fl8":2800,"gate":"none"},{"fl7":3500,"fl8":3050,"gate":"none"},{"fl7":3600,"fl8":2900,"gate":"none"},{"fl7":3700,"fl8":3150,"gate":"none"},{"fl7":3800,"fl8":3000,"gate":"none"},{"fl7":3900,"fl8":3250,"gate":"none"},{"fl7":4000,"fl8":3300,"gate":"none"},{"fl7":2500,"fl8":2600,"gate":"none"},{"fl7":2750,"fl8":2250,"gate":"none"},{"fl7":3050,"fl8":2350,"gate":"none"},{"fl7":3350,"fl8":2200,"gate":"none"},{"fl7":3650,"fl8":2000,"gate":"none"},{"fl7":3950,"fl8":2600,"gate":"none"},{"fl7":2700,"fl8":2900,"gate":"none"},{"fl7":2850,"fl8":3100,"gate":"none"},{"fl7":3500,"fl8":3450,"gate":"none"},{"fl7":3700,"fl8":3550,"gate":"none"},{"fl7":3950,"fl8":3450,"gate":"none"},{"fl7":4050,"fl8":3900,"gate":"none"},{"fl7":3200,"fl8":1900,"gate":"none"},{"fl7":3700,"fl8":1500,"gate":"none"},{"fl7":2900,"fl8":1200,"gate":"none"},{"fl7":3400,"fl8":1000,"gate":"none"},{"fl7":2500,"fl8":500,"gate":"none"},{"fl7":2700,"fl8":200,"gate":"none"},
{"fl7":1900,"fl8":1750,"gate":"R5"},{"fl7":2000,"fl8":1650,"gate":"R5"},{"fl7":2100,"fl8":1700,"gate":"R5"},{"fl7":2200,"fl8":1800,"gate":"R5"},{"fl7":2300,"fl8":1650,"gate":"R5"},{"fl7":1800,"fl8":1700,"gate":"R5"},{"fl7":2050,"fl8":1850,"gate":"R5"},{"fl7":2250,"fl8":1550,"gate":"R5"},{"fl7":2400,"fl8":1750,"gate":"R5"},
{"fl7":700,"fl8":1000,"gate":"R4"},{"fl7":1000,"fl8":1500,"gate":"R4"},{"fl7":500,"fl8":750,"gate":"R4"}
],
"cells_bottom_day10":[
{"fl7":48,"fl8":8,"gate":"none"},{"fl7":39,"fl8":79,"gate":"none"},{"fl7":106,"fl8":46,"gate":"none"},{"fl7":135,"fl8":56,"gate":"none"},{"fl7":227,"fl8":65,"gate":"none"},{"fl7":246,"fl8":89,"gate":"none"},{"fl7":312,"fl8":122,"gate":"none"},{"fl7":368,"fl8":138,"gate":"none"},{"fl7":379,"fl8":159,"gate":"none"},{"fl7":456,"fl8":216,"gate":"none"},{"fl7":485,"fl8":196,"gate":"none"},{"fl7":547,"fl8":285,"gate":"none"},{"fl7":576,"fl8":269,"gate":"none"},{"fl7":612,"fl8":422,"gate":"none"},{"fl7":668,"fl8":368,"gate":"none"},{"fl7":679,"fl8":529,"gate":"none"},{"fl7":726,"fl8":596,"gate":"none"},{"fl7":765,"fl8":526,"gate":"none"},{"fl7":827,"fl8":705,"gate":"none"},{"fl7":846,"fl8":619,"gate":"none"},{"fl7":892,"fl8":822,"gate":"none"},{"fl7":918,"fl8":708,"gate":"none"},{"fl7":929,"fl8":909,"gate":"none"},{"fl7":1006,"fl8":966,"gate":"none"},{"fl7":1035,"fl8":876,"gate":"none"},{"fl7":1107,"fl8":1105,"gate":"none"},{"fl7":1116,"fl8":1019,"gate":"none"},{"fl7":1162,"fl8":1222,"gate":"none"},{"fl7":1218,"fl8":1138,"gate":"none"},{"fl7":1199,"fl8":1329,"gate":"none"},{"fl7":1286,"fl8":1266,"gate":"none"},{"fl7":1285,"fl8":1376,"gate":"none"},{"fl7":1377,"fl8":1355,"gate":"none"},{"fl7":1376,"fl8":1519,"gate":"none"},{"fl7":1432,"fl8":1472,"gate":"none"},{"fl7":1468,"fl8":1588,"gate":"none"},{"fl7":1479,"fl8":1529,"gate":"none"},{"fl7":1556,"fl8":1666,"gate":"none"},{"fl7":1565,"fl8":1476,"gate":"none"},{"fl7":1677,"fl8":1455,"gate":"none"},{"fl7":1696,"fl8":1369,"gate":"none"},{"fl7":1762,"fl8":1372,"gate":"none"},{"fl7":1568,"fl8":1338,"gate":"none"},{"fl7":1429,"fl8":1279,"gate":"none"},{"fl7":1356,"fl8":1166,"gate":"none"},{"fl7":1235,"fl8":1026,"gate":"none"},{"fl7":1177,"fl8":955,"gate":"none"},{"fl7":1046,"fl8":769,"gate":"none"},{"fl7":962,"fl8":722,"gate":"none"},{"fl7":868,"fl8":538,"gate":"none"},{"fl7":729,"fl8":479,"gate":"none"},{"fl7":656,"fl8":316,"gate":"none"},{"fl7":535,"fl8":176,"gate":"none"},{"fl7":477,"fl8":105,"gate":"none"},{"fl7":116,"fl8":89,"gate":"none"},{"fl7":192,"fl8":172,"gate":"none"},{"fl7":298,"fl8":188,"gate":"none"},{"fl7":359,"fl8":89,"gate":"none"},{"fl7":706,"fl8":266,"gate":"none"},{"fl7":885,"fl8":426,"gate":"none"},{"fl7":1127,"fl8":655,"gate":"none"},{"fl7":1296,"fl8":869,"gate":"none"},{"fl7":1512,"fl8":1122,"gate":"none"},
{"fl7":1737,"fl8":2047,"gate":"none"},{"fl7":1759,"fl8":2208,"gate":"none"},{"fl7":1912,"fl8":2181,"gate":"none"},{"fl7":1971,"fl8":2203,"gate":"none"},{"fl7":2153,"fl8":2159,"gate":"none"},{"fl7":2192,"fl8":2288,"gate":"none"},{"fl7":2324,"fl8":2244,"gate":"none"},{"fl7":2437,"fl8":2427,"gate":"none"},{"fl7":2459,"fl8":2358,"gate":"none"},{"fl7":2562,"fl8":2631,"gate":"none"},{"fl7":2621,"fl8":2403,"gate":"none"},{"fl7":2753,"fl8":2709,"gate":"none"},{"fl7":2792,"fl8":2488,"gate":"none"},{"fl7":2874,"fl8":2894,"gate":"none"},{"fl7":2987,"fl8":2677,"gate":"none"},{"fl7":2959,"fl8":3008,"gate":"none"},{"fl7":3112,"fl8":2831,"gate":"none"},{"fl7":3121,"fl8":3053,"gate":"none"},{"fl7":3303,"fl8":2959,"gate":"none"},{"fl7":3292,"fl8":3138,"gate":"none"},{"fl7":3424,"fl8":3094,"gate":"none"},{"fl7":3487,"fl8":3277,"gate":"none"},{"fl7":3509,"fl8":3208,"gate":"none"},{"fl7":3612,"fl8":3431,"gate":"none"},{"fl7":3671,"fl8":3203,"gate":"none"},{"fl7":3803,"fl8":3509,"gate":"none"},{"fl7":3842,"fl8":3288,"gate":"none"},{"fl7":3924,"fl8":3644,"gate":"none"},{"fl7":4037,"fl8":3427,"gate":"none"},{"fl7":4009,"fl8":3758,"gate":"none"},{"fl7":2612,"fl8":2131,"gate":"none"},{"fl7":2721,"fl8":2203,"gate":"none"},{"fl7":2953,"fl8":2409,"gate":"none"},{"fl7":3042,"fl8":2438,"gate":"none"},{"fl7":3224,"fl8":2694,"gate":"none"},{"fl7":3387,"fl8":2727,"gate":"none"},{"fl7":3459,"fl8":2908,"gate":"none"},{"fl7":3662,"fl8":2981,"gate":"none"},{"fl7":3771,"fl8":3003,"gate":"none"},{"fl7":4003,"fl8":3159,"gate":"none"},{"fl7":2702,"fl8":1888,"gate":"none"},{"fl7":2824,"fl8":2044,"gate":"none"},{"fl7":3037,"fl8":2127,"gate":"none"},{"fl7":3159,"fl8":2358,"gate":"none"},{"fl7":3412,"fl8":2481,"gate":"none"},{"fl7":3571,"fl8":2553,"gate":"none"},{"fl7":3853,"fl8":2759,"gate":"none"},{"fl7":3992,"fl8":2838,"gate":"none"},{"fl7":2424,"fl8":2194,"gate":"none"},{"fl7":2537,"fl8":2127,"gate":"none"},{"fl7":2259,"fl8":2608,"gate":"none"},{"fl7":2612,"fl8":2831,"gate":"none"},{"fl7":2871,"fl8":3053,"gate":"none"},{"fl7":3153,"fl8":3309,"gate":"none"},{"fl7":3292,"fl8":3388,"gate":"none"},{"fl7":3524,"fl8":3644,"gate":"none"},{"fl7":3737,"fl8":3677,"gate":"none"},{"fl7":3859,"fl8":3908,"gate":"none"},{"fl7":2762,"fl8":1631,"gate":"none"},{"fl7":2971,"fl8":1703,"gate":"none"},{"fl7":3253,"fl8":1859,"gate":"none"},{"fl7":3492,"fl8":1938,"gate":"none"},{"fl7":3824,"fl8":2244,"gate":"none"},{"fl7":4087,"fl8":2377,"gate":"none"},{"fl7":1909,"fl8":1288,"gate":"none"},{"fl7":2212,"fl8":1281,"gate":"none"},{"fl7":2421,"fl8":1303,"gate":"none"},{"fl7":2703,"fl8":1409,"gate":"none"},{"fl7":3292,"fl8":1438,"gate":"none"},{"fl7":3624,"fl8":1694,"gate":"none"},{"fl7":3937,"fl8":1877,"gate":"none"},{"fl7":3359,"fl8":1158,"gate":"none"},{"fl7":3712,"fl8":931,"gate":"none"},{"fl7":2871,"fl8":753,"gate":"none"},{"fl7":3153,"fl8":409,"gate":"none"},{"fl7":3592,"fl8":238,"gate":"none"},{"fl7":3924,"fl8":644,"gate":"none"},{"fl7":2537,"fl8":577,"gate":"none"},{"fl7":2159,"fl8":458,"gate":"none"},{"fl7":1912,"fl8":731,"gate":"none"},{"fl7":1671,"fl8":853,"gate":"none"},{"fl7":4090,"fl8":1509,"gate":"none"},{"fl7":4042,"fl8":2738,"gate":"none"},{"fl7":2024,"fl8":2544,"gate":"none"},{"fl7":2187,"fl8":2627,"gate":"none"},{"fl7":2259,"fl8":208,"gate":"none"},{"fl7":2712,"fl8":331,"gate":"none"},{"fl7":3271,"fl8":103,"gate":"none"},{"fl7":3553,"fl8":709,"gate":"none"},{"fl7":3992,"fl8":288,"gate":"none"},{"fl7":2024,"fl8":244,"gate":"none"},{"fl7":1637,"fl8":277,"gate":"none"},{"fl7":1759,"fl8":558,"gate":"none"},
{"fl7":1618,"fl8":1912,"gate":"none"},{"fl7":1702,"fl8":2093,"gate":"none"},{"fl7":1828,"fl8":2091,"gate":"none"},{"fl7":1943,"fl8":2283,"gate":"none"},{"fl7":2067,"fl8":2207,"gate":"none"},{"fl7":2148,"fl8":2433,"gate":"none"},{"fl7":2271,"fl8":2318,"gate":"none"},{"fl7":2362,"fl8":2498,"gate":"none"},{"fl7":2447,"fl8":2376,"gate":"none"},{"fl7":2538,"fl8":2512,"gate":"none"},{"fl7":2617,"fl8":2337,"gate":"none"},{"fl7":2693,"fl8":2611,"gate":"none"},{"fl7":2781,"fl8":2403,"gate":"none"},{"fl7":2846,"fl8":2686,"gate":"none"},{"fl7":2928,"fl8":2548,"gate":"none"},{"fl7":3017,"fl8":2812,"gate":"none"},{"fl7":3083,"fl8":2604,"gate":"none"},{"fl7":3156,"fl8":2893,"gate":"none"},{"fl7":3238,"fl8":2772,"gate":"none"},{"fl7":3317,"fl8":3031,"gate":"none"},{"fl7":3397,"fl8":2888,"gate":"none"},{"fl7":3468,"fl8":3146,"gate":"none"},{"fl7":3561,"fl8":3004,"gate":"none"},{"fl7":3633,"fl8":3271,"gate":"none"},{"fl7":3718,"fl8":3118,"gate":"none"},{"fl7":3786,"fl8":3396,"gate":"none"},{"fl7":3864,"fl8":3231,"gate":"none"},{"fl7":3941,"fl8":3512,"gate":"none"},{"fl7":4018,"fl8":3336,"gate":"none"},{"fl7":2977,"fl8":2283,"gate":"none"},{"fl7":3126,"fl8":2462,"gate":"none"},{"fl7":3284,"fl8":2571,"gate":"none"},{"fl7":3447,"fl8":2703,"gate":"none"},{"fl7":3598,"fl8":2796,"gate":"none"},
{"fl7":1668,"fl8":1638,"gate":"R5"},{"fl7":1679,"fl8":1779,"gate":"R5"},{"fl7":1756,"fl8":1616,"gate":"R5"},{"fl7":1735,"fl8":1826,"gate":"R5"},{"fl7":1827,"fl8":1705,"gate":"R5"},{"fl7":1846,"fl8":1519,"gate":"R5"},{"fl7":1862,"fl8":1922,"gate":"R5"},{"fl7":1918,"fl8":1638,"gate":"R5"},{"fl7":1879,"fl8":1829,"gate":"R5"},{"fl7":1956,"fl8":1466,"gate":"R5"},{"fl7":1935,"fl8":1726,"gate":"R5"},{"fl7":2027,"fl8":1605,"gate":"R5"},{"fl7":1996,"fl8":1919,"gate":"R5"},{"fl7":2062,"fl8":1722,"gate":"R5"},{"fl7":2068,"fl8":1488,"gate":"R5"},{"fl7":2079,"fl8":1879,"gate":"R5"},{"fl7":2106,"fl8":1616,"gate":"R5"},{"fl7":2135,"fl8":1726,"gate":"R5"},{"fl7":2177,"fl8":1455,"gate":"R5"},{"fl7":2196,"fl8":1619,"gate":"R5"},{"fl7":2212,"fl8":1922,"gate":"R5"},{"fl7":2268,"fl8":1538,"gate":"R5"},{"fl7":2229,"fl8":1779,"gate":"R5"},{"fl7":2306,"fl8":1666,"gate":"R5"},{"fl7":2285,"fl8":1826,"gate":"R5"},{"fl7":2377,"fl8":1505,"gate":"R5"},{"fl7":2346,"fl8":1719,"gate":"R5"},{"fl7":2412,"fl8":1672,"gate":"R5"},{"fl7":2418,"fl8":1888,"gate":"R5"},{"fl7":2429,"fl8":1629,"gate":"R5"},{"fl7":2456,"fl8":1816,"gate":"R5"},{"fl7":2485,"fl8":1676,"gate":"R5"},{"fl7":2577,"fl8":1605,"gate":"R5"},{"fl7":2546,"fl8":1819,"gate":"R5"},{"fl7":2612,"fl8":1722,"gate":"R5"},{"fl7":1818,"fl8":1438,"gate":"R5"},{"fl7":1979,"fl8":2029,"gate":"R5"},{"fl7":2206,"fl8":1416,"gate":"R5"},{"fl7":2085,"fl8":1326,"gate":"R5"},{"fl7":1727,"fl8":1555,"gate":"R5"},
{"fl7":1761,"fl8":1702,"gate":"R5"},{"fl7":1812,"fl8":1587,"gate":"R5"},{"fl7":1893,"fl8":1744,"gate":"R5"},{"fl7":1947,"fl8":1592,"gate":"R5"},{"fl7":2008,"fl8":1801,"gate":"R5"},{"fl7":2057,"fl8":1634,"gate":"R5"},{"fl7":2123,"fl8":1767,"gate":"R5"},{"fl7":2172,"fl8":1561,"gate":"R5"},{"fl7":2241,"fl8":1692,"gate":"R5"},{"fl7":2298,"fl8":1593,"gate":"R5"},{"fl7":2352,"fl8":1857,"gate":"R5"},{"fl7":2391,"fl8":1548,"gate":"R5"},{"fl7":2463,"fl8":1733,"gate":"R5"},{"fl7":2517,"fl8":1781,"gate":"R5"},{"fl7":1906,"fl8":1893,"gate":"R5"},{"fl7":2143,"fl8":1962,"gate":"R5"},{"fl7":2032,"fl8":1431,"gate":"R5"},{"fl7":2282,"fl8":1466,"gate":"R5"},{"fl7":1715,"fl8":1686,"gate":"R5"},{"fl7":2533,"fl8":1612,"gate":"R5"},
{"fl7":400,"fl8":700,"gate":"R4"},{"fl7":500,"fl8":900,"gate":"R4"},{"fl7":600,"fl8":1000,"gate":"R4"},{"fl7":700,"fl8":1200,"gate":"R4"},{"fl7":800,"fl8":1350,"gate":"R4"},{"fl7":900,"fl8":1500,"gate":"R4"},{"fl7":1000,"fl8":1650,"gate":"R4"},{"fl7":1100,"fl8":1850,"gate":"R4"},{"fl7":550,"fl8":800,"gate":"R4"},{"fl7":750,"fl8":1100,"gate":"R4"},{"fl7":950,"fl8":1400,"gate":"R4"},{"fl7":650,"fl8":1300,"gate":"R4"},{"fl7":850,"fl8":1600,"gate":"R4"},{"fl7":1150,"fl8":2000,"gate":"R4"},{"fl7":1250,"fl8":2100,"gate":"R4"}
]
},
"concat":[
{
"width":294,"height":220,"view":{"stroke":null},
"encoding":{"x":{"field":"x","type":"quantitative","scale":{"domain":[0,294],"nice":false,"zero":false},"axis":null},"y":{"field":"y","type":"quantitative","scale":{"domain":[40,260],"nice":false,"zero":false,"reverse":true},"axis":null}},
"layer":[
{"data":{"values":[{"x":0,"y":0,"x2":1,"y2":0}]},"mark":{"type":"rule","strokeOpacity":0},"encoding":{"x2":{"field":"x2"},"y2":{"field":"y2"}}},
{"data":{"values":[{"x":8,"y":13,"x2":1055,"y2":13},{"x":9,"y":12,"x2":9,"y2":616}]},"mark":{"type":"rule","color":"#444","strokeWidth":2},"encoding":{"x2":{"field":"x2"},"y2":{"field":"y2"}}},
{"data":{"values":[{"x":201.7,"y":195,"x2":278.3,"y2":145},{"x":52.7,"y":231,"x2":52.7,"y2":240},{"x":52.7,"y":240,"x2":139,"y2":240}]},"mark":{"type":"rule","color":"black","strokeWidth":1.3},"encoding":{"x2":{"field":"x2"},"y2":{"field":"y2"}}},
{"data":{"values":[{"x":278.3,"y":145}]},"mark":{"type":"point","shape":"M0,0L-1,-0.4L-1,0.4Z","size":324,"angle":-33,"filled":true,"color":"black","opacity":1,"strokeWidth":0}},
{"data":{"values":[{"x":141,"y":240}]},"mark":{"type":"point","shape":"M0,0L-1,-0.4L-1,0.4Z","size":324,"angle":0,"filled":true,"color":"black","opacity":1,"strokeWidth":0}},
{"data":{"values":[{"text":"Side Population","x":192,"y":104},{"text":"fraction","x":195,"y":128}]},"mark":{"type":"text","align":"center","baseline":"middle","font":"Liberation Sans","fontSize":21,"color":"black"},"encoding":{"text":{"field":"text","type":"nominal"}}},
{"data":{"values":[{"text":"MOS-R-1929","x":22,"y":210}]},"mark":{"type":"text","align":"left","baseline":"middle","font":"Liberation Sans","fontSize":23,"fontWeight":"bold","color":"black"},"encoding":{"text":{"field":"text","type":"nominal"}}},
{"data":{"values":[{"text":"sort with Hoechst","x":22,"y":267}]},"mark":{"type":"text","align":"left","baseline":"middle","font":"Liberation Sans","fontSize":20,"fontWeight":"bold","color":"black"},"encoding":{"text":{"field":"text","type":"nominal"}}}
]
},
{
"width":225,"height":220,
"encoding":{
"x":{"field":"fl7","type":"quantitative","scale":{"domain":[0,4095],"nice":false,"zero":false},"axis":{"title":"FL 7","values":[0,128,256,384,512,640,768,896,1024,1152,1280,1408,1536,1664,1792,1920,2048,2176,2304,2432,2560,2688,2816,2944,3072,3200,3328,3456,3584,3712,3840,3968,4095],"format":"d","labelExpr":"datum.value == 0 || datum.value == 4095 ? datum.label : ''","labelAlign":{"condition":{"test":"datum.value == 0","value":"left"},"value":"right"},"labelBaseline":"top","labelFlush":false,"labelOverlap":false,"labelPadding":1,"titleY":4,"titleBaseline":"top"}},
"y":{"field":"fl8","type":"quantitative","scale":{"domain":[0,4095],"nice":false,"zero":false},"axis":{"title":"FL 8","values":[0,128,256,384,512,640,768,896,1024,1152,1280,1408,1536,1664,1792,1920,2048,2176,2304,2432,2560,2688,2816,2944,3072,3200,3328,3456,3584,3712,3840,3968,4095],"format":"d","labelExpr":"datum.value == 0 || datum.value == 4095 ? datum.label : ''","labelAngle":-90,"labelAlign":{"condition":{"test":"datum.value == 0","value":"left"},"value":"right"},"labelBaseline":"bottom","labelFlush":false,"labelOverlap":false,"labelPadding":2,"titleAngle":-90,"titleX":-7,"titleY":96,"titleAlign":"center","titleBaseline":"bottom"}}
},
"layer":[
{"data":{"name":"cells_top_day1"},"mark":{"type":"square","size":4,"opacity":0.85},"encoding":{"color":{"field":"gate","type":"nominal","scale":{"domain":["none","R4","R5"],"range":["#3434c8","#d966c8","#e02a2a"]},"legend":null}}},
{"data":{"name":"gate_r4"},"mark":{"type":"line","color":"#555","strokeWidth":1},"encoding":{"order":{"field":"vertex","type":"quantitative"}}},
{"data":{"name":"gate_r5"},"mark":{"type":"point","shape":"M-1,0A1,0.68,0,1,1,1,0A1,0.68,0,1,1,-1,0Z","size":3844,"filled":false,"color":"#555","strokeWidth":1,"opacity":1}},
{"data":{"values":[{"text":"Day 1","fl7":1540,"fl8":3723}]},"mark":{"type":"text","align":"left","baseline":"middle","font":"Liberation Sans","fontSize":17,"color":"black"},"encoding":{"text":{"field":"text","type":"nominal"}}},
{"data":{"values":[{"text":"SP-depleted","fl7":1990,"fl8":2450},{"text":"MP","fl7":1990,"fl8":2030},{"text":"SP","fl7":615,"fl8":865}]},"mark":{"type":"text","align":"left","baseline":"middle","font":"Liberation Sans","fontSize":21,"color":"black"},"encoding":{"text":{"field":"text","type":"nominal"}}},
{"data":{"values":[{"text":"R4","fl7":935,"fl8":1295},{"text":"R5","fl7":2110,"fl8":1705}]},"mark":{"type":"text","align":"center","baseline":"middle","font":"Liberation Sans Narrow, Arial Narrow, Liberation Sans","fontSize":10,"color":"#444"},"encoding":{"text":{"field":"text","type":"nominal"}}}
]
},
{
"width":225,"height":220,
"encoding":{
"x":{"field":"fl7","type":"quantitative","scale":{"domain":[0,4095],"nice":false,"zero":false},"axis":{"title":"FL 7","values":[0,128,256,384,512,640,768,896,1024,1152,1280,1408,1536,1664,1792,1920,2048,2176,2304,2432,2560,2688,2816,2944,3072,3200,3328,3456,3584,3712,3840,3968,4095],"format":"d","labelExpr":"datum.value == 0 || datum.value == 4095 ? datum.label : ''","labelAlign":{"condition":{"test":"datum.value == 0","value":"left"},"value":"right"},"labelBaseline":"top","labelFlush":false,"labelOverlap":false,"labelPadding":1,"titleY":4,"titleBaseline":"top"}},
"y":{"field":"fl8","type":"quantitative","scale":{"domain":[0,4095],"nice":false,"zero":false},"axis":{"title":null,"labels":false,"values":[0,128,256,384,512,640,768,896,1024,1152,1280,1408,1536,1664,1792,1920,2048,2176,2304,2432,2560,2688,2816,2944,3072,3200,3328,3456,3584,3712,3840,3968,4095]}}
},
"layer":[
{"data":{"name":"cells_top_day5"},"mark":{"type":"square","size":4,"opacity":0.85},"encoding":{"color":{"field":"gate","type":"nominal","scale":{"domain":["none","R4","R5"],"range":["#3434c8","#d966c8","#e02a2a"]},"legend":null}}},
{"data":{"name":"gate_r4"},"mark":{"type":"line","color":"#555","strokeWidth":1},"encoding":{"order":{"field":"vertex","type":"quantitative"}}},
{"data":{"name":"gate_r5"},"mark":{"type":"point","shape":"M-1,0A1,0.68,0,1,1,1,0A1,0.68,0,1,1,-1,0Z","size":3844,"filled":false,"color":"#555","strokeWidth":1,"opacity":1}},
{"data":{"values":[{"text":"Day 5","fl7":1540,"fl8":3728}]},"mark":{"type":"text","align":"left","baseline":"middle","font":"Liberation Sans","fontSize":17,"color":"black"},"encoding":{"text":{"field":"text","type":"nominal"}}},
{"data":{"values":[{"text":"SP-depleted","fl7":1927,"fl8":2450},{"text":"MP","fl7":1927,"fl8":2030},{"text":"SP","fl7":632,"fl8":870}]},"mark":{"type":"text","align":"left","baseline":"middle","font":"Liberation Sans","fontSize":21,"color":"black"},"encoding":{"text":{"field":"text","type":"nominal"}}},
{"data":{"values":[{"text":"R4","fl7":963,"fl8":1294},{"text":"R5","fl7":2150,"fl8":1690}]},"mark":{"type":"text","align":"center","baseline":"middle","font":"Liberation Sans Narrow, Arial Narrow, Liberation Sans","fontSize":10,"color":"#444"},"encoding":{"text":{"field":"text","type":"nominal"}}}
]
},
{
"width":225,"height":220,
"encoding":{
"x":{"field":"fl7","type":"quantitative","scale":{"domain":[0,4095],"nice":false,"zero":false},"axis":{"title":"FL 7","values":[0,128,256,384,512,640,768,896,1024,1152,1280,1408,1536,1664,1792,1920,2048,2176,2304,2432,2560,2688,2816,2944,3072,3200,3328,3456,3584,3712,3840,3968,4095],"format":"d","labelExpr":"datum.value == 0 || datum.value == 4095 ? datum.label : ''","labelAlign":{"condition":{"test":"datum.value == 0","value":"left"},"value":"right"},"labelBaseline":"top","labelFlush":false,"labelOverlap":false,"labelPadding":1,"titleY":4,"titleBaseline":"top"}},
"y":{"field":"fl8","type":"quantitative","scale":{"domain":[0,4095],"nice":false,"zero":false},"axis":{"title":null,"labels":false,"values":[0,128,256,384,512,640,768,896,1024,1152,1280,1408,1536,1664,1792,1920,2048,2176,2304,2432,2560,2688,2816,2944,3072,3200,3328,3456,3584,3712,3840,3968,4095]}}
},
"layer":[
{"data":{"name":"cells_top_day10"},"mark":{"type":"square","size":4,"opacity":0.85},"encoding":{"color":{"field":"gate","type":"nominal","scale":{"domain":["none","R4","R5"],"range":["#3434c8","#d966c8","#e02a2a"]},"legend":null}}},
{"data":{"name":"gate_r4"},"mark":{"type":"line","color":"#555","strokeWidth":1},"encoding":{"order":{"field":"vertex","type":"quantitative"}}},
{"data":{"name":"gate_r5"},"mark":{"type":"point","shape":"M-1,0A1,0.68,0,1,1,1,0A1,0.68,0,1,1,-1,0Z","size":3844,"filled":false,"color":"#555","strokeWidth":1,"opacity":1}},
{"data":{"values":[{"text":"Day 10","fl7":1553,"fl8":3753}]},"mark":{"type":"text","align":"left","baseline":"middle","font":"Liberation Sans","fontSize":17,"color":"black"},"encoding":{"text":{"field":"text","type":"nominal"}}},
{"data":{"values":[{"text":"SP-depleted","fl7":1917,"fl8":2445},{"text":"MP","fl7":1917,"fl8":2030},{"text":"SP","fl7":613,"fl8":900}]},"mark":{"type":"text","align":"left","baseline":"middle","font":"Liberation Sans","fontSize":21,"color":"black"},"encoding":{"text":{"field":"text","type":"nominal"}}},
{"data":{"values":[{"text":"R4","fl7":961,"fl8":1298},{"text":"R5","fl7":2142,"fl8":1718}]},"mark":{"type":"text","align":"center","baseline":"middle","font":"Liberation Sans Narrow, Arial Narrow, Liberation Sans","fontSize":10,"color":"#444"},"encoding":{"text":{"field":"text","type":"nominal"}}}
]
},
{
"width":294,"height":223,"view":{"stroke":null},
"encoding":{"x":{"field":"x","type":"quantitative","scale":{"domain":[0,294],"nice":false,"zero":false},"axis":null},"y":{"field":"y","type":"quantitative","scale":{"domain":[315,538],"nice":false,"zero":false,"reverse":true},"axis":null}},
"layer":[
{"data":{"values":[{"x":192.7,"y":290.7,"x2":278.3,"y2":358.3},{"x":280,"y":553,"x2":280,"y2":432},{"x":323,"y":577,"x2":539,"y2":577}]},"mark":{"type":"rule","color":"black","strokeWidth":1.3},"encoding":{"x2":{"field":"x2"},"y2":{"field":"y2"}}},
{"data":{"values":[{"x":279,"y":359}]},"mark":{"type":"point","shape":"M0,0L-1,-0.4L-1,0.4Z","size":324,"angle":38,"filled":true,"color":"black","opacity":1,"strokeWidth":0}},
{"data":{"values":[{"x":280,"y":429}]},"mark":{"type":"point","shape":"M0,0L-1,-0.4L-1,0.4Z","size":324,"angle":-90,"filled":true,"color":"black","opacity":1,"strokeWidth":0}},
{"data":{"values":[{"x":542,"y":577}]},"mark":{"type":"point","shape":"M0,0L-1,-0.4L-1,0.4Z","size":324,"angle":0,"filled":true,"color":"black","opacity":1,"strokeWidth":0}},
{"data":{"values":[{"text":"SP-depleted","x":190,"y":370},{"text":"Main Population","x":190,"y":395},{"text":"fraction","x":192,"y":420}]},"mark":{"type":"text","align":"center","baseline":"middle","font":"Liberation Sans","fontSize":21,"color":"black"},"encoding":{"text":{"field":"text","type":"nominal"}}},
{"data":{"values":[{"text":"Hoechst blue","x":266,"y":507}]},"mark":{"type":"text","align":"center","baseline":"middle","font":"Liberation Serif","fontSize":24,"angle":-90,"color":"black"},"encoding":{"text":{"field":"text","type":"nominal"}}},
{"data":{"values":[{"text":"Hoechst red","x":325,"y":598}]},"mark":{"type":"text","align":"left","baseline":"middle","font":"Liberation Serif","fontSize":24,"color":"black"},"encoding":{"text":{"field":"text","type":"nominal"}}}
]
},
{
"width":225,"height":223,
"encoding":{
"x":{"field":"fl7","type":"quantitative","scale":{"domain":[0,4095],"nice":false,"zero":false},"axis":{"title":"FL 7","values":[0,128,256,384,512,640,768,896,1024,1152,1280,1408,1536,1664,1792,1920,2048,2176,2304,2432,2560,2688,2816,2944,3072,3200,3328,3456,3584,3712,3840,3968,4095],"format":"d","labelExpr":"datum.value == 0 || datum.value == 4095 ? datum.label : ''","labelAlign":{"condition":{"test":"datum.value == 0","value":"left"},"value":"right"},"labelBaseline":"top","labelFlush":false,"labelOverlap":false,"labelPadding":1,"titleY":4,"titleBaseline":"top"}},
"y":{"field":"fl8","type":"quantitative","scale":{"domain":[0,4095],"nice":false,"zero":false},"axis":{"title":"FL 8","values":[0,128,256,384,512,640,768,896,1024,1152,1280,1408,1536,1664,1792,1920,2048,2176,2304,2432,2560,2688,2816,2944,3072,3200,3328,3456,3584,3712,3840,3968,4095],"format":"d","labelExpr":"datum.value == 0 || datum.value == 4095 ? datum.label : ''","labelAngle":-90,"labelAlign":{"condition":{"test":"datum.value == 0","value":"left"},"value":"right"},"labelBaseline":"bottom","labelFlush":false,"labelOverlap":false,"labelPadding":2,"titleAngle":-90,"titleX":-7,"titleY":107,"titleAlign":"center","titleBaseline":"bottom"}}
},
"layer":[
{"data":{"name":"cells_bottom_day1"},"mark":{"type":"square","size":4,"opacity":0.85},"encoding":{"color":{"field":"gate","type":"nominal","scale":{"domain":["none","R4","R5"],"range":["#3434c8","#d966c8","#e02a2a"]},"legend":null}}},
{"data":{"name":"gate_r4"},"mark":{"type":"line","color":"#555","strokeWidth":1},"encoding":{"order":{"field":"vertex","type":"quantitative"}}},
{"data":{"name":"gate_r5"},"mark":{"type":"point","shape":"M-1,0A1,0.68,0,1,1,1,0A1,0.68,0,1,1,-1,0Z","size":3844,"filled":false,"color":"#555","strokeWidth":1,"opacity":1}},
{"data":{"values":[{"text":"Day 1","fl7":1536,"fl8":3544}]},"mark":{"type":"text","align":"left","baseline":"middle","font":"Liberation Sans","fontSize":17,"color":"black"},"encoding":{"text":{"field":"text","type":"nominal"}}},
{"data":{"values":[{"text":"SP-depleted","fl7":1870,"fl8":2442},{"text":"MP","fl7":1870,"fl8":2020},{"text":"SP","fl7":561,"fl8":850}]},"mark":{"type":"text","align":"left","baseline":"middle","font":"Liberation Sans","fontSize":21,"color":"black"},"encoding":{"text":{"field":"text","type":"nominal"}}},
{"data":{"values":[{"text":"R4","fl7":941,"fl8":1309},{"text":"R5","fl7":2130,"fl8":1678}]},"mark":{"type":"text","align":"center","baseline":"middle","font":"Liberation Sans Narrow, Arial Narrow, Liberation Sans","fontSize":10,"color":"#444"},"encoding":{"text":{"field":"text","type":"nominal"}}}
]
},
{
"width":225,"height":223,
"encoding":{
"x":{"field":"fl7","type":"quantitative","scale":{"domain":[0,4095],"nice":false,"zero":false},"axis":{"title":"FL 7","values":[0,128,256,384,512,640,768,896,1024,1152,1280,1408,1536,1664,1792,1920,2048,2176,2304,2432,2560,2688,2816,2944,3072,3200,3328,3456,3584,3712,3840,3968,4095],"format":"d","labelExpr":"datum.value == 0 || datum.value == 4095 ? datum.label : ''","labelAlign":{"condition":{"test":"datum.value == 0","value":"left"},"value":"right"},"labelBaseline":"top","labelFlush":false,"labelOverlap":false,"labelPadding":1,"titleY":4,"titleBaseline":"top"}},
"y":{"field":"fl8","type":"quantitative","scale":{"domain":[0,4095],"nice":false,"zero":false},"axis":{"title":null,"labels":false,"values":[0,128,256,384,512,640,768,896,1024,1152,1280,1408,1536,1664,1792,1920,2048,2176,2304,2432,2560,2688,2816,2944,3072,3200,3328,3456,3584,3712,3840,3968,4095]}}
},
"layer":[
{"data":{"name":"cells_bottom_day5"},"mark":{"type":"square","size":4,"opacity":0.85},"encoding":{"color":{"field":"gate","type":"nominal","scale":{"domain":["none","R4","R5"],"range":["#3434c8","#d966c8","#e02a2a"]},"legend":null}}},
{"data":{"name":"gate_r4"},"mark":{"type":"line","color":"#555","strokeWidth":1},"encoding":{"order":{"field":"vertex","type":"quantitative"}}},
{"data":{"name":"gate_r5"},"mark":{"type":"point","shape":"M-1,0A1,0.68,0,1,1,1,0A1,0.68,0,1,1,-1,0Z","size":3844,"filled":false,"color":"#555","strokeWidth":1,"opacity":1}},
{"data":{"values":[{"text":"Day 5","fl7":1529,"fl8":3544}]},"mark":{"type":"text","align":"left","baseline":"middle","font":"Liberation Sans","fontSize":17,"color":"black"},"encoding":{"text":{"field":"text","type":"nominal"}}},
{"data":{"values":[{"text":"SP-depleted","fl7":1875,"fl8":2424},{"text":"MP","fl7":1875,"fl8":1990},{"text":"SP","fl7":570,"fl8":881}]},"mark":{"type":"text","align":"left","baseline":"middle","font":"Liberation Sans","fontSize":21,"color":"black"},"encoding":{"text":{"field":"text","type":"nominal"}}},
{"data":{"values":[{"text":"R4","fl7":925,"fl8":1309},{"text":"R5","fl7":2117,"fl8":1689}]},"mark":{"type":"text","align":"center","baseline":"middle","font":"Liberation Sans Narrow, Arial Narrow, Liberation Sans","fontSize":10,"color":"#444"},"encoding":{"text":{"field":"text","type":"nominal"}}}
]
},
{
"width":225,"height":223,
"encoding":{
"x":{"field":"fl7","type":"quantitative","scale":{"domain":[0,4095],"nice":false,"zero":false},"axis":{"title":"FL 7","values":[0,128,256,384,512,640,768,896,1024,1152,1280,1408,1536,1664,1792,1920,2048,2176,2304,2432,2560,2688,2816,2944,3072,3200,3328,3456,3584,3712,3840,3968,4095],"format":"d","labelExpr":"datum.value == 0 || datum.value == 4095 ? datum.label : ''","labelAlign":{"condition":{"test":"datum.value == 0","value":"left"},"value":"right"},"labelBaseline":"top","labelFlush":false,"labelOverlap":false,"labelPadding":1,"titleY":4,"titleBaseline":"top"}},
"y":{"field":"fl8","type":"quantitative","scale":{"domain":[0,4095],"nice":false,"zero":false},"axis":{"title":null,"labels":false,"values":[0,128,256,384,512,640,768,896,1024,1152,1280,1408,1536,1664,1792,1920,2048,2176,2304,2432,2560,2688,2816,2944,3072,3200,3328,3456,3584,3712,3840,3968,4095]}}
},
"layer":[
{"data":{"name":"cells_bottom_day10"},"mark":{"type":"square","size":4,"opacity":0.85},"encoding":{"color":{"field":"gate","type":"nominal","scale":{"domain":["none","R4","R5"],"range":["#3434c8","#d966c8","#e02a2a"]},"legend":null}}},
{"data":{"name":"gate_r4"},"mark":{"type":"line","color":"#555","strokeWidth":1},"encoding":{"order":{"field":"vertex","type":"quantitative"}}},
{"data":{"name":"gate_r5"},"mark":{"type":"point","shape":"M-1,0A1,0.68,0,1,1,1,0A1,0.68,0,1,1,-1,0Z","size":3844,"filled":false,"color":"#555","strokeWidth":1,"opacity":1}},
{"data":{"values":[{"text":"Day 10","fl7":1571,"fl8":3581}]},"mark":{"type":"text","align":"left","baseline":"middle","font":"Liberation Sans","fontSize":17,"color":"black"},"encoding":{"text":{"field":"text","type":"nominal"}}},
{"data":{"values":[{"text":"SP-depleted","fl7":1887,"fl8":2424},{"text":"MP","fl7":1887,"fl8":1990},{"text":"SP","fl7":613,"fl8":881}]},"mark":{"type":"text","align":"left","baseline":"middle","font":"Liberation Sans","fontSize":21,"color":"black"},"encoding":{"text":{"field":"text","type":"nominal"}}},
{"data":{"values":[{"text":"R4","fl7":961,"fl8":1309},{"text":"R5","fl7":2142,"fl8":1708}]},"mark":{"type":"text","align":"center","baseline":"middle","font":"Liberation Sans Narrow, Arial Narrow, Liberation Sans","fontSize":10,"color":"#444"},"encoding":{"text":{"field":"text","type":"nominal"}}}
]
}
]
}
